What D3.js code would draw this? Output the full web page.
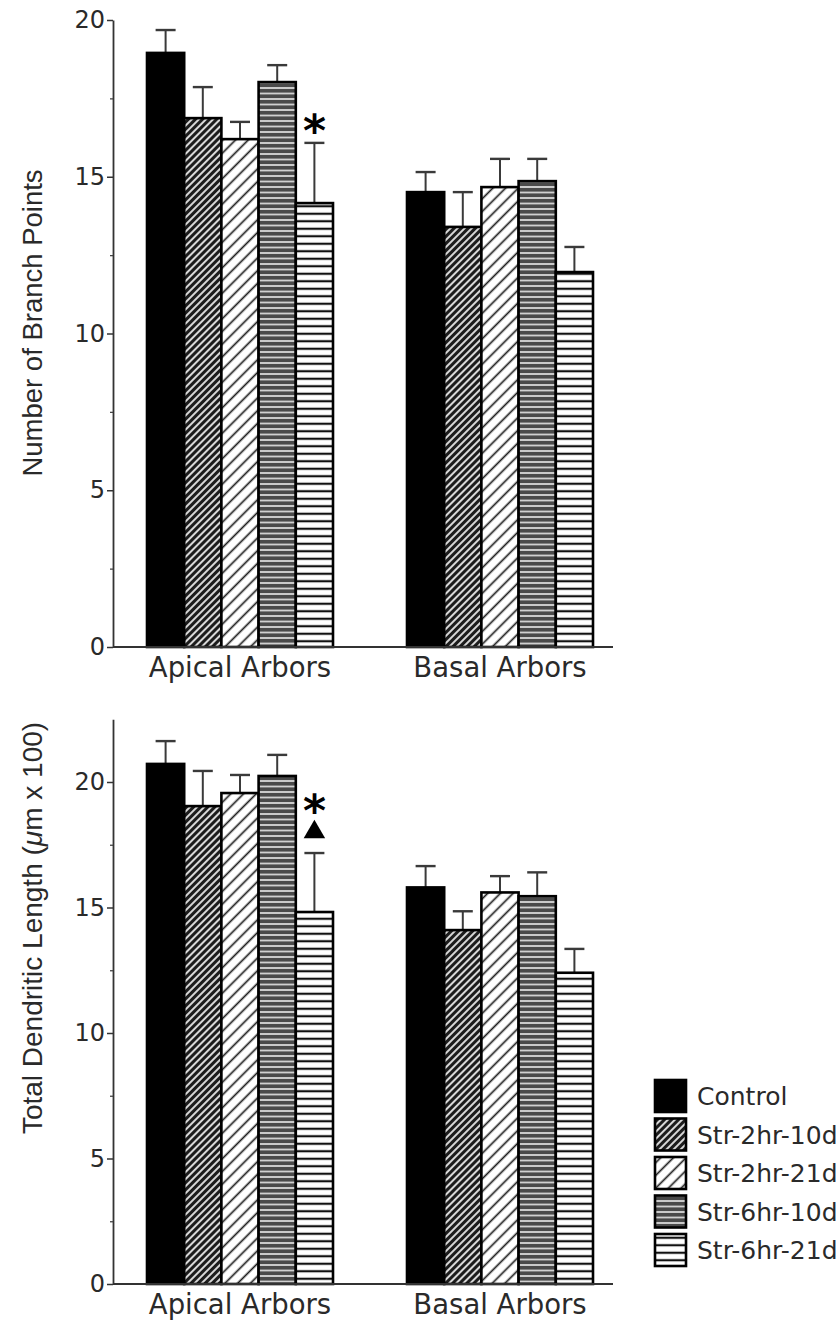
<!DOCTYPE html>
<html>
<head>
<meta charset="utf-8">
<script src="https://cdn.jsdelivr.net/npm/d3@7"></script>
<style>
  body { margin: 0; background: #fff; }
</style>
</head>
<body>
<div id="chart"></div>
<script>
// Two panels: branch points and total dendritic length, apical vs basal arbors
const groups = ["Apical Arbors", "Basal Arbors"];
const seriesNames = ["Control", "Str-2hr-10d", "Str-2hr-21d", "Str-6hr-10d", "Str-6hr-21d"];

// mean and SEM per group, series in the order above
const branchMean = [[18.95, 16.87, 16.2, 18.02, 14.16], [14.51, 13.4, 14.67, 14.86, 11.96]];
const branchSem  = [[0.73, 0.99, 0.55, 0.54, 1.92], [0.64, 1.11, 0.9, 0.71, 0.8]];
const lengthMean = [[20.72, 19.04, 19.56, 20.24, 14.82], [15.8, 14.1, 15.6, 15.45, 12.4]];
const lengthSem  = [[0.91, 1.4, 0.72, 0.84, 2.35], [0.85, 0.75, 0.65, 0.95, 0.95]];

const yTicks = [0, 5, 10, 15, 20];
const yMinorTicks = [2.5, 7.5, 12.5, 17.5];

// significance marks, listed from the error bar upwards
const branchMarks = [{ group: 0, series: 4, marks: ["*"] }];
const lengthMarks = [{ group: 0, series: 4, marks: ["tri", "*"] }];

const width = 840, height = 1325;
const svg = d3.select("#chart").append("svg")
    .attr("width", width)
    .attr("height", height);

const labelFont = "'DejaVu Sans', sans-serif";
const titleFont = "'Liberation Sans', Arial, sans-serif";
const ink = "#2a2a2a";

// --- fill patterns ---
const defs = svg.append("defs");
const fills = ["#000"];

function linePattern(id, size, angle, bg, lineColor, lineW) {
    const p = defs.append("pattern")
        .attr("id", id)
        .attr("patternUnits", "userSpaceOnUse")
        .attr("width", size).attr("height", size)
        .attr("patternTransform", `rotate(${angle})`);
    p.append("rect").attr("width", size).attr("height", size).attr("fill", bg);
    p.append("line")
        .attr("x1", size / 2).attr("x2", size / 2)
        .attr("y1", 0).attr("y2", size)
        .attr("stroke", lineColor).attr("stroke-width", lineW);
    return `url(#${id})`;
}
fills.push(linePattern("pDense", 5, 45, "#ececec", "#1c1c1c", 3.2));
fills.push(linePattern("pSparse", 9, 45, "#fff", "#1c1c1c", 1.7));
fills.push(linePattern("pGrayH", 5.5, 90, "#d0d0d0", "#4a4a4a", 3.7));
fills.push(linePattern("pWhiteH", 7.5, 90, "#fff", "#111", 2.2));

function drawPanel(opts) {
    const y = d3.scaleLinear().domain([0, opts.yMax]).range([opts.y0, opts.y0 - opts.yMax * opts.unit]);
    const x0 = d3.scaleBand().domain(groups).range([147, 593]).paddingInner(74 / 260).paddingOuter(0);
    const x1 = d3.scaleBand().domain(seriesNames).range([0, x0.bandwidth()]).padding(0);

    const g = svg.append("g");

    const rows = [];
    groups.forEach((grp, gi) => {
        seriesNames.forEach((s, si) => {
            rows.push({ grp, gi, s, si, mean: opts.means[gi][si], sem: opts.sems[gi][si] });
        });
    });

    // error bars (upward only)
    const err = g.selectAll(".err").data(rows).enter().append("g").attr("class", "err");
    err.append("line")
        .attr("x1", d => x0(d.grp) + x1(d.s) + x1.bandwidth() / 2)
        .attr("x2", d => x0(d.grp) + x1(d.s) + x1.bandwidth() / 2)
        .attr("y1", d => y(d.mean))
        .attr("y2", d => y(d.mean + d.sem))
        .attr("stroke", "#3a3a3a").attr("stroke-width", 2);
    err.append("line")
        .attr("x1", d => x0(d.grp) + x1(d.s) + x1.bandwidth() / 2 - 10)
        .attr("x2", d => x0(d.grp) + x1(d.s) + x1.bandwidth() / 2 + 10)
        .attr("y1", d => y(d.mean + d.sem))
        .attr("y2", d => y(d.mean + d.sem))
        .attr("stroke", "#3a3a3a").attr("stroke-width", 2.4);

    // bars
    g.selectAll(".bar").data(rows).enter().append("rect")
        .attr("class", "bar")
        .attr("x", d => x0(d.grp) + x1(d.s))
        .attr("y", d => y(d.mean))
        .attr("width", x1.bandwidth())
        .attr("height", d => y(0) - y(d.mean))
        .attr("fill", d => fills[d.si])
        .attr("stroke", "#000")
        .attr("stroke-width", 2.6);

    // x axis baseline
    g.append("line")
        .attr("x1", 113).attr("x2", 613)
        .attr("y1", y(0)).attr("y2", y(0))
        .attr("stroke", "#333").attr("stroke-width", 1.8);

    // y axis
    const axis = g.append("g")
        .attr("transform", "translate(113,0)")
        .call(d3.axisLeft(y).tickValues(yTicks).tickSize(6).tickPadding(2).tickSizeOuter(0));
    axis.select(".domain").attr("stroke", "#333").attr("stroke-width", 1.8);
    axis.selectAll(".tick line").attr("stroke", "#333").attr("stroke-width", 1.5);
    axis.selectAll(".tick text")
        .attr("font-family", labelFont).attr("font-size", 24).attr("fill", ink);
    const minor = g.append("g")
        .attr("transform", "translate(113,0)")
        .call(d3.axisLeft(y).tickValues(yMinorTicks).tickSize(3).tickFormat(""));
    minor.select(".domain").remove();
    minor.selectAll(".tick line").attr("stroke", "#444").attr("stroke-width", 1.3);

    // category labels
    g.selectAll(".cat").data(groups).enter().append("text")
        .attr("x", d => x0(d) + x0.bandwidth() / 2)
        .attr("y", y(0) + 30)
        .attr("text-anchor", "middle")
        .attr("font-family", labelFont).attr("font-size", 27.5).attr("fill", ink)
        .text(d => d);

    // y title
    const t = g.append("text")
        .attr("transform", `translate(42,${opts.titleY}) rotate(-90)`)
        .attr("text-anchor", "middle")
        .attr("font-family", titleFont).attr("font-size", opts.titleSize).attr("fill", ink);
    opts.title.forEach(part => {
        t.append("tspan").attr("font-style", part.italic ? "italic" : null).text(part.text);
    });

    // significance marks
    opts.marks.forEach(m => {
        const cx = x0(groups[m.group]) + x1(seriesNames[m.series]) + x1.bandwidth() / 2;
        let cy = y(opts.means[m.group][m.series] + opts.sems[m.group][m.series]) - 21;
        m.marks.forEach(mk => {
            if (mk === "tri") {
                g.append("path")
                    .attr("d", d3.symbol(d3.symbolTriangle).size(200)())
                    .attr("transform", `translate(${cx},${cy})`)
                    .attr("fill", "#000");
            } else {
                g.append("text")
                    .attr("x", cx).attr("y", cy + 24)
                    .attr("text-anchor", "middle")
                    .attr("font-family", labelFont).attr("font-weight", "bold")
                    .attr("font-size", 44).attr("fill", "#000")
                    .text(mk);
            }
            cy -= 30;
        });
    });
}

drawPanel({
    y0: 647, unit: 31.35, yMax: 20,
    means: branchMean, sems: branchSem, marks: branchMarks,
    titleY: 323, titleSize: 27.5,
    title: [{ text: "Number of Branch Points" }]
});

drawPanel({
    y0: 1284, unit: 25.1, yMax: 22.5,
    means: lengthMean, sems: lengthSem, marks: lengthMarks,
    titleY: 928, titleSize: 28,
    title: [{ text: "Total Dendritic Length (" }, { text: "\u03bc", italic: true }, { text: "m x 100)" }]
});

// legend
const legend = svg.append("g").attr("transform", "translate(655,1080)");
const items = legend.selectAll(".item").data(seriesNames).enter().append("g")
    .attr("transform", (d, i) => `translate(0,${i * 38.5})`);
items.append("rect")
    .attr("width", 31).attr("height", 32)
    .attr("fill", (d, i) => fills[i])
    .attr("stroke", "#000").attr("stroke-width", 2.6);
items.append("text")
    .attr("x", 42).attr("y", 25)
    .attr("font-family", labelFont).attr("font-size", 25).attr("fill", ink)
    .text(d => d);
</script>
</body>
</html>
